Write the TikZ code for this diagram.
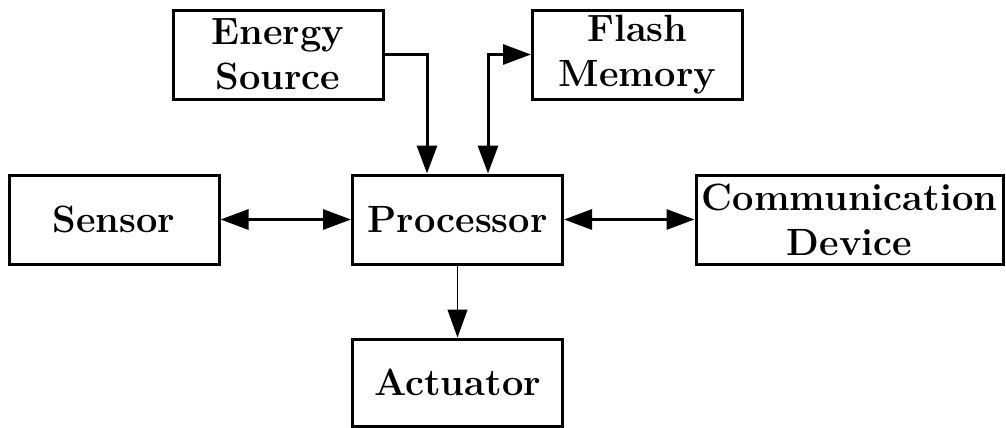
\documentclass[tikz,border=0pt]{standalone}
\usetikzlibrary{arrows.meta}
\begin{document}
\begin{tikzpicture}[x=0.5pt,y=-0.5pt,
  blk/.style={draw,line width=1.5pt,minimum width=105pt,minimum height=44.5pt,
    inner sep=0pt,align=center,font=\fontsize{19}{22.5}\selectfont\bfseries},
  conn/.style={line width=1.5pt,-{Triangle[length=14pt,width=10pt]}},
  dconn/.style={line width=1.5pt,{Triangle[length=14pt,width=10pt]}-{Triangle[length=14pt,width=10pt]}},
  thinconn/.style={line width=0.6pt,-{Triangle[length=14pt,width=10pt]}}]
\useasboundingbox (0,0) rectangle (1006,428);
\node[blk] (E) at (278,54.5) {Energy\\Source};
\node[blk] (F) at (637.5,54.5) {Flash\\Memory};
\node[blk] (S) at (114,219.5) {Sensor};
\node[blk] (P) at (457.5,219.5) {Processor};
\node[blk,minimum width=153.5pt] (C) at (849.5,219.5) {Communication\\Device};
\node[blk,minimum height=43.5pt] (A) at (457.5,382.5) {Actuator};
\draw[conn,line join=miter] (E.east) -| ([xshift=-15.25pt]P.north);
\draw[dconn,line join=miter] ([xshift=15.25pt]P.north) |- (F.west);
\draw[dconn] (S) -- (P);
\draw[dconn] (P) -- (C);
\draw[thinconn] (P) -- (A);
\end{tikzpicture}
\end{document}
